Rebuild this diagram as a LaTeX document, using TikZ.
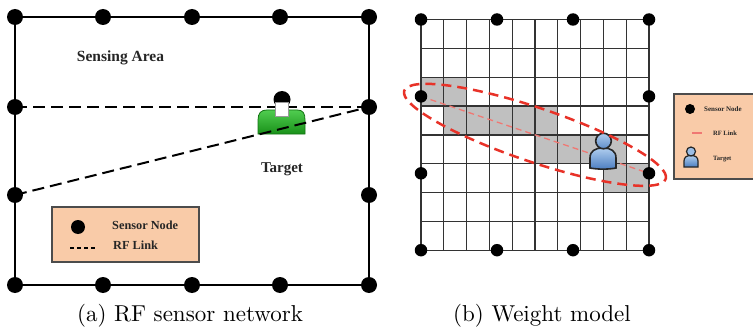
\documentclass[tikz,border=0pt]{standalone}
\usepackage{fontspec}
\usetikzlibrary{calc}
\newfontfamily\tnr{Liberation Serif}
\definecolor{peach}{RGB}{249,203,168}
\definecolor{linkred}{RGB}{232,50,40}
\definecolor{paleRed}{RGB}{240,120,115}
\definecolor{cellgray}{RGB}{192,192,192}
\definecolor{bodyTop}{RGB}{80,205,80}
\definecolor{bodyBot}{RGB}{25,145,25}
\definecolor{blueTop}{RGB}{175,205,238}
\definecolor{blueBot}{RGB}{75,125,192}
\begin{document}
\begin{tikzpicture}[x=1pt,y=-1pt,
  sdot/.style={circle,fill=black,inner sep=0pt,minimum size=16pt},
  gdot/.style={circle,fill=black,inner sep=0pt,minimum size=12.5pt},
  rflink/.style={line width=2pt,dash pattern=on 12pt off 6pt},
  lbl/.style={inner sep=0pt,text=black!85},
  gridline/.style={line width=1.3pt,draw=black!80},
  cell/.style={fill=cellgray},
  legbox/.style={fill=peach,draw=black!70,line width=1.3pt},
  caption/.style={anchor=base,inner sep=0pt}
]
\clip (0,0) rectangle (753,329);
\fill[white] (0,0) rectangle (753,329);

% ---------- (a) RF sensor network ----------
\foreach \i/\x in {0/15,1/103,2/192,3/280,4/369}{
  \coordinate (T\i) at (\x,17);
  \coordinate (B\i) at (\x,285);
}
\coordinate (L1) at (15,107);
\coordinate (L2) at (15,195);
\coordinate (R1) at (369,107);
\coordinate (R2) at (369,195);

\draw[line width=2pt] (T0) rectangle (B4);
\draw[rflink] (L1) -- (R1);

% target person
\draw[draw=bodyBot!80!black,line width=0.8pt,top color=bodyTop,bottom color=bodyBot]
  (258,134) -- (258,120) .. controls (258,113) and (261,110) .. (267,110)
  -- (297,110) .. controls (303,110) and (305,113) .. (305,120) -- (305,134) -- cycle;
\fill[black] (282,99.5) circle (8.5);
\draw[fill=white,draw=black!40,line width=0.5pt] (275.5,102) rectangle (288.5,116);

\draw[rflink] (L2) -- (R1);

\foreach \n in {T0,T1,T2,T3,T4,B0,B1,B2,B3,B4,L1,L2,R1,R2}
  \node[sdot] (dot\n) at (\n) {};

\node[lbl,font=\tnr\bfseries\fontsize{15.5}{18}\selectfont,anchor=base] (area) at (120.5,62) {Sensing Area};
\node[lbl,font=\tnr\bfseries\fontsize{15}{18}\selectfont,anchor=base] (target) at (282,172) {Target};

% legend of (a)
\draw[legbox] (52,207) rectangle (199,262);
\node[circle,fill=black,inner sep=0pt,minimum size=14pt] (legdot) at (78,227) {};
\coordinate (legA) at (70,247.5);
\coordinate (legB) at (96,247.5);
\draw[line width=2pt,dash pattern=on 4pt off 3pt] (legA) -- (legB);
\node[lbl,font=\tnr\bfseries\fontsize{12.3}{14}\selectfont,anchor=base west] (legsn) at (112,229.5) {Sensor Node};
\node[lbl,font=\tnr\bfseries\fontsize{12.3}{14}\selectfont,anchor=base west] (legrf) at (113,249.5) {RF Link};

% ---------- (b) Weight model ----------
\def\gx{421}\def\gy{19.5}\def\cw{22.8}\def\ch{28.84}
\foreach \r/\a/\b in {2/0/2,3/1/6,4/5/9,5/8/10}
  \fill[cell] ({\gx+\cw*\a},{\gy+\ch*\r}) rectangle ({\gx+\cw*\b},{\gy+\ch*(\r+1)});
\foreach \i in {0,...,10}
  \draw[gridline] ({\gx+\cw*\i},\gy) -- ({\gx+\cw*\i},{\gy+8*\ch});
\foreach \j in {0,...,8}
  \draw[gridline] (\gx,{\gy+\ch*\j}) -- ({\gx+10*\cw},{\gy+\ch*\j});

\foreach \i/\x in {0/421,1/497,2/573,3/649}{
  \coordinate (GT\i) at (\x,19.5);
  \coordinate (GB\i) at (\x,250.2);
}
\coordinate (GL1) at (421,96.4);
\coordinate (GL2) at (421,173.3);
\coordinate (GR1) at (649,96.4);
\coordinate (GR2) at (649,173.3);

\draw[paleRed,line width=1.3pt,dash pattern=on 6pt off 4pt] (GL1) -- (GR2);
\coordinate (M) at ($(GL1)!0.5!(GR2)$);

\foreach \n in {GT0,GT1,GT2,GT3,GB0,GB1,GB2,GB3,GL1,GL2,GR1,GR2}
  \node[gdot] (dot\n) at (\n) {};

% person in the weight model
\draw[line width=1.6pt,draw=black!85,top color=blueTop,bottom color=blueBot]
  (590,168) -- (590,158) .. controls (590,151) and (595,148) .. (603,148)
  .. controls (611,148) and (616,151) .. (616,158) -- (616,168)
  .. controls (608,169.5) and (598,169.5) .. cycle;
\draw[line width=1.6pt,draw=black!85,top color=blueTop,bottom color=blueBot!80!blueTop]
  (603.5,141) circle (7.8);

\draw[linkred,line width=2.5pt,dash pattern=on 10pt off 6pt,rotate around={-18.64:(M)}]
  (M) ellipse [x radius=138pt, y radius=27pt];

% legend of (b)
\draw[legbox] (674,94) rectangle (780,179);
\node[circle,fill=black,inner sep=0pt,minimum size=10pt] (legdotb) at (690,109) {};
\node[lbl,font=\tnr\bfseries\fontsize{7}{8}\selectfont,anchor=base west] (legsnb) at (704,111.5) {Sensor Node};
\coordinate (legC) at (692,133);
\coordinate (legD) at (702,133);
\draw[paleRed,line width=1.6pt] (legC) -- (legD);
\node[lbl,font=\tnr\bfseries\fontsize{6.5}{8}\selectfont,anchor=base west] (legrfb) at (713,135.5) {RF Link};
\draw[line width=1.2pt,draw=black!85,top color=blueTop,bottom color=blueBot]
  (684,167) -- (684,161) .. controls (684,157) and (687,155.5) .. (691,155.5)
  .. controls (695,155.5) and (698,157) .. (698,161) -- (698,167) -- cycle;
\draw[line width=1.2pt,draw=black!85,fill=blueTop!80!blueBot] (691,151.5) circle (4.5);
\node[lbl,font=\tnr\bfseries\fontsize{6.5}{8}\selectfont,anchor=base west] (legtb) at (713,160) {Target};

% captions
\node[caption] (capa) at (190,321) {\scalebox{2.3}{(a) RF sensor network}};
\node[caption] (capb) at (542,321) {\scalebox{2.3}{(b) Weight model}};
\end{tikzpicture}
\end{document}
